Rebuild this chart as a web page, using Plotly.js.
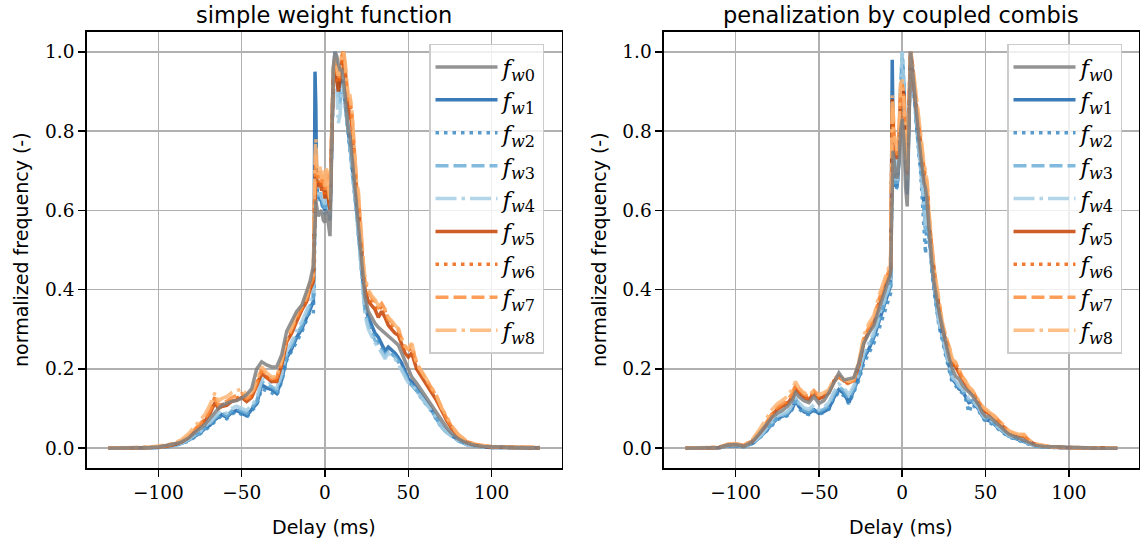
<!DOCTYPE html>
<html><head><meta charset="utf-8">
<script src="https://cdn.plot.ly/plotly-3.0.1.min.js"></script>
<style>html,body{margin:0;padding:0;background:#fff}#chart{width:1144px;height:545px}</style>
</head><body><div id="chart"></div>
<script>
// Delay axis samples (ms)
const delay = [-130,-120,-110,-105,-100,-95,-90,-86,-82,-78,
 -75,-72,-69,-66,-64,-62,-59,-56,-53,-50,
 -47,-44,-41,-38,-35,-32,-29,-26,-23,-20,
 -17,-14,-11,-9,-7,-6.5,-6,-5.5,-5,-4,
 -3,-2,-1,0,1,2,3,4,5,6,
 7,8,9,10,11,12,13,14,15,16,
 17,18,19,20,21,22,23,24,26,28,
 30,32,34,36,38,40,42,44,46,48,
 50,52,55,58,61,64,67,70,73,76,
 80,85,90,95,100,110,120,129];

const seriesLabels = ['<i>f</i><sub><i>w</i>0</sub>','<i>f</i><sub><i>w</i>1</sub>','<i>f</i><sub><i>w</i>2</sub>',
 '<i>f</i><sub><i>w</i>3</sub>','<i>f</i><sub><i>w</i>4</sub>','<i>f</i><sub><i>w</i>5</sub>',
 '<i>f</i><sub><i>w</i>6</sub>','<i>f</i><sub><i>w</i>7</sub>','<i>f</i><sub><i>w</i>8</sub>'];
const panelTitles = ['simple weight function','penalization by coupled combis'];
const xTickVals = [-100,-50,0,50,100];
const yTickVals = [0,0.2,0.4,0.6,0.8,1.0];
const yTickText = ['0.0','0.2','0.4','0.6','0.8','1.0'];

// ---------- Panel 1: simple weight function ----------
const simple_fw0 = [0,0,0.001,0.002,0.003,0.006,0.011,0.016,0.025,0.040,
 0.050,0.060,0.075,0.092,0.100,0.108,0.113,0.118,0.120,0.126,
 0.135,0.150,0.200,0.218,0.210,0.205,0.205,0.235,0.295,0.320,
 0.345,0.360,0.400,0.420,0.460,0.520,0.600,0.625,0.610,0.585,
 0.595,0.600,0.575,0.570,0.600,0.560,0.535,0.760,0.960,1.000,
 0.990,0.970,0.955,0.955,0.930,0.890,0.840,0.800,0.785,0.750,
 0.700,0.655,0.610,0.565,0.510,0.460,0.410,0.380,0.345,0.330,
 0.315,0.305,0.298,0.290,0.283,0.275,0.268,0.260,0.240,0.220,
 0.200,0.180,0.164,0.145,0.125,0.107,0.088,0.068,0.052,0.037,
 0.023,0.013,0.007,0.004,0.003,0.002,0.001,0.001];
const simple_fw1 = [0,0,0,0.001,0.002,0.004,0.008,0.012,0.020,0.030,
 0.038,0.050,0.058,0.072,0.080,0.085,0.078,0.090,0.095,0.088,
 0.082,0.098,0.112,0.160,0.152,0.148,0.138,0.172,0.228,0.250,
 0.280,0.300,0.330,0.350,0.370,0.550,0.950,0.860,0.660,0.630,
 0.640,0.620,0.610,0.600,0.625,0.600,0.580,0.760,0.940,1.000,
 0.960,0.920,0.910,0.930,0.920,0.880,0.840,0.800,0.775,0.740,
 0.690,0.645,0.600,0.550,0.500,0.440,0.390,0.360,0.330,0.310,
 0.290,0.280,0.262,0.245,0.255,0.248,0.240,0.228,0.215,0.195,
 0.175,0.168,0.150,0.130,0.113,0.097,0.075,0.055,0.042,0.032,
 0.020,0.010,0.006,0.003,0.002,0.001,0,0.001];
const simple_fw2 = [0,0,0,0.001,0.002,0.003,0.007,0.011,0.018,0.028,
 0.036,0.046,0.055,0.068,0.075,0.082,0.074,0.086,0.092,0.084,
 0.078,0.094,0.108,0.150,0.145,0.140,0.132,0.168,0.222,0.245,
 0.272,0.292,0.325,0.345,0.340,0.420,0.600,0.660,0.640,0.620,
 0.630,0.615,0.600,0.590,0.615,0.590,0.570,0.750,0.930,1.000,
 0.950,0.910,0.900,0.920,0.910,0.870,0.830,0.790,0.770,0.730,
 0.680,0.635,0.590,0.540,0.490,0.430,0.380,0.350,0.320,0.300,
 0.280,0.270,0.255,0.238,0.248,0.240,0.232,0.220,0.205,0.188,
 0.170,0.160,0.145,0.125,0.108,0.093,0.072,0.052,0.040,0.030,
 0.018,0.009,0.005,0.003,0.002,0.001,0,0];
const simple_fw3 = [0,0,0,0.001,0.002,0.004,0.008,0.012,0.020,0.031,
 0.040,0.052,0.062,0.076,0.084,0.090,0.082,0.094,0.100,0.094,
 0.088,0.102,0.118,0.168,0.160,0.155,0.145,0.180,0.235,0.258,
 0.288,0.308,0.338,0.360,0.380,0.480,0.620,0.670,0.650,0.635,
 0.645,0.625,0.615,0.605,0.630,0.605,0.585,0.770,0.950,1.000,
 0.950,0.880,0.870,0.910,0.915,0.875,0.835,0.795,0.775,0.735,
 0.685,0.640,0.595,0.545,0.495,0.435,0.380,0.345,0.310,0.290,
 0.272,0.262,0.248,0.232,0.245,0.238,0.230,0.218,0.203,0.185,
 0.168,0.160,0.145,0.126,0.110,0.095,0.073,0.053,0.040,0.030,
 0.019,0.009,0.005,0.003,0.002,0.001,0.001,0];
const simple_fw4 = [0,0,0,0.001,0.002,0.004,0.009,0.013,0.022,0.033,
 0.042,0.055,0.066,0.080,0.088,0.095,0.088,0.100,0.106,0.100,
 0.095,0.108,0.125,0.175,0.170,0.162,0.152,0.188,0.245,0.268,
 0.298,0.318,0.345,0.368,0.395,0.520,0.640,0.680,0.660,0.640,
 0.650,0.630,0.625,0.615,0.640,0.615,0.590,0.780,0.960,1.000,
 0.900,0.820,0.840,0.900,0.920,0.880,0.840,0.800,0.780,0.740,
 0.690,0.640,0.590,0.540,0.480,0.420,0.370,0.335,0.300,0.280,
 0.265,0.255,0.240,0.225,0.240,0.232,0.225,0.212,0.198,0.180,
 0.165,0.160,0.145,0.126,0.110,0.095,0.073,0.053,0.040,0.030,
 0.019,0.010,0.006,0.003,0.002,0.001,0.001,0];
const simple_fw5 = [0,0,0.001,0.002,0.003,0.005,0.010,0.016,0.027,0.044,
 0.055,0.068,0.088,0.115,0.100,0.105,0.108,0.118,0.122,0.128,
 0.118,0.128,0.158,0.188,0.178,0.168,0.168,0.210,0.268,0.290,
 0.320,0.348,0.370,0.400,0.420,0.560,0.660,0.700,0.670,0.660,
 0.670,0.650,0.660,0.630,0.660,0.620,0.600,0.780,0.930,0.960,
 0.930,0.900,0.930,0.970,1.000,0.950,0.900,0.860,0.840,0.820,
 0.760,0.700,0.640,0.620,0.570,0.500,0.440,0.400,0.370,0.360,
 0.350,0.330,0.345,0.330,0.310,0.300,0.290,0.285,0.260,0.240,
 0.230,0.240,0.200,0.180,0.160,0.140,0.120,0.095,0.070,0.050,
 0.030,0.015,0.008,0.005,0.003,0.002,0.001,0.001];
const simple_fw6 = [0,0,0.001,0.002,0.003,0.006,0.011,0.017,0.029,0.046,
 0.058,0.072,0.092,0.130,0.105,0.110,0.112,0.122,0.126,0.132,
 0.122,0.132,0.162,0.192,0.182,0.172,0.172,0.215,0.272,0.295,
 0.325,0.352,0.375,0.405,0.430,0.580,0.680,0.720,0.690,0.670,
 0.690,0.660,0.680,0.640,0.680,0.640,0.610,0.790,0.940,0.970,
 0.940,0.920,0.940,0.980,1.000,0.960,0.910,0.870,0.870,0.840,
 0.780,0.720,0.650,0.630,0.580,0.510,0.450,0.410,0.385,0.370,
 0.360,0.345,0.360,0.345,0.320,0.310,0.300,0.298,0.270,0.250,
 0.245,0.255,0.210,0.190,0.170,0.150,0.128,0.100,0.075,0.054,
 0.032,0.016,0.009,0.005,0.003,0.002,0.002,0.001];
const simple_fw7 = [0,0,0.001,0.002,0.003,0.006,0.012,0.018,0.030,0.048,
 0.060,0.075,0.095,0.125,0.108,0.112,0.118,0.128,0.132,0.138,
 0.125,0.132,0.165,0.200,0.185,0.175,0.178,0.220,0.275,0.300,
 0.330,0.355,0.378,0.410,0.430,0.600,0.700,0.740,0.700,0.680,
 0.700,0.670,0.690,0.650,0.700,0.650,0.620,0.800,0.950,0.980,
 0.950,0.930,0.950,0.990,1.000,0.970,0.920,0.880,0.880,0.850,
 0.790,0.730,0.660,0.640,0.590,0.520,0.460,0.420,0.395,0.380,
 0.370,0.355,0.365,0.350,0.325,0.318,0.305,0.300,0.275,0.255,
 0.250,0.262,0.212,0.192,0.172,0.152,0.130,0.100,0.075,0.055,
 0.033,0.017,0.010,0.006,0.004,0.003,0.002,0.002];
const simple_fw8 = [0,0,0.002,0.003,0.005,0.008,0.014,0.022,0.036,0.056,
 0.070,0.085,0.110,0.140,0.118,0.125,0.130,0.140,0.145,0.150,
 0.135,0.140,0.172,0.206,0.190,0.180,0.180,0.222,0.278,0.305,
 0.340,0.360,0.385,0.420,0.440,0.620,0.740,0.780,0.720,0.690,
 0.710,0.680,0.700,0.660,0.710,0.660,0.630,0.810,0.960,0.990,
 0.960,0.940,0.960,0.990,1.000,0.980,0.930,0.890,0.890,0.860,
 0.800,0.740,0.670,0.650,0.600,0.530,0.470,0.430,0.400,0.385,
 0.375,0.360,0.362,0.350,0.330,0.322,0.310,0.302,0.278,0.258,
 0.252,0.265,0.215,0.195,0.175,0.155,0.132,0.102,0.078,0.057,
 0.035,0.018,0.010,0.006,0.004,0.003,0.002,0.002];

// ---------- Panel 2: penalization by coupled combis ----------
const coupled_fw0 = [0,0.001,0.002,0.008,0.009,0.005,0.016,0.035,0.055,0.078,
 0.088,0.095,0.105,0.120,0.140,0.130,0.120,0.115,0.130,0.113,
 0.120,0.140,0.165,0.190,0.172,0.176,0.178,0.215,0.265,0.290,
 0.310,0.350,0.390,0.420,0.440,0.550,0.700,0.750,0.730,0.690,
 0.680,0.720,0.800,0.830,0.780,0.660,0.610,0.800,1.000,0.960,
 0.910,0.870,0.820,0.780,0.740,0.700,0.670,0.655,0.620,0.560,
 0.500,0.460,0.420,0.400,0.370,0.345,0.325,0.305,0.270,0.230,
 0.200,0.182,0.175,0.160,0.150,0.142,0.133,0.120,0.108,0.090,
 0.080,0.080,0.070,0.058,0.046,0.035,0.030,0.026,0.020,0.014,
 0.007,0.004,0.003,0.002,0.001,0.001,0,0];
const coupled_fw1 = [0,0,0.001,0.006,0.007,0.004,0.012,0.026,0.042,0.062,
 0.075,0.080,0.085,0.100,0.120,0.105,0.092,0.088,0.097,0.088,
 0.092,0.100,0.128,0.148,0.138,0.115,0.145,0.180,0.228,0.250,
 0.280,0.320,0.360,0.385,0.410,0.600,0.980,0.800,0.720,0.660,
 0.665,0.720,0.830,0.970,0.900,0.720,0.640,0.820,1.000,0.960,
 0.900,0.850,0.800,0.760,0.730,0.680,0.620,0.560,0.600,0.540,
 0.490,0.450,0.410,0.375,0.340,0.320,0.300,0.285,0.245,0.210,
 0.175,0.165,0.150,0.145,0.130,0.115,0.118,0.108,0.098,0.082,
 0.072,0.070,0.062,0.050,0.040,0.030,0.026,0.021,0.016,0.011,
 0.006,0.003,0.002,0.001,0.001,0,0,0];
const coupled_fw2 = [0,0,0.001,0.005,0.006,0.004,0.011,0.024,0.040,0.058,
 0.072,0.078,0.082,0.098,0.115,0.100,0.088,0.085,0.095,0.085,
 0.090,0.098,0.125,0.142,0.132,0.112,0.140,0.172,0.215,0.238,
 0.265,0.300,0.340,0.360,0.390,0.560,0.700,0.740,0.700,0.650,
 0.660,0.740,0.880,0.990,0.920,0.740,0.660,0.830,1.000,0.950,
 0.890,0.840,0.790,0.740,0.700,0.640,0.560,0.490,0.590,0.530,
 0.480,0.440,0.400,0.365,0.330,0.310,0.290,0.275,0.235,0.200,
 0.165,0.158,0.145,0.140,0.125,0.090,0.112,0.102,0.094,0.078,
 0.068,0.066,0.058,0.047,0.037,0.028,0.024,0.019,0.015,0.010,
 0.005,0.003,0.002,0.001,0.001,0,0,0];
const coupled_fw3 = [0,0,0.001,0.006,0.007,0.004,0.012,0.026,0.043,0.064,
 0.077,0.082,0.088,0.104,0.125,0.110,0.096,0.092,0.102,0.093,
 0.098,0.108,0.135,0.155,0.145,0.125,0.150,0.185,0.235,0.258,
 0.285,0.325,0.365,0.390,0.415,0.580,0.720,0.760,0.720,0.670,
 0.670,0.750,0.900,1.000,0.920,0.750,0.670,0.830,0.990,0.950,
 0.890,0.850,0.800,0.750,0.710,0.660,0.600,0.540,0.600,0.545,
 0.495,0.455,0.415,0.378,0.342,0.320,0.300,0.285,0.245,0.210,
 0.178,0.168,0.155,0.148,0.135,0.120,0.120,0.110,0.100,0.084,
 0.074,0.072,0.063,0.051,0.041,0.031,0.027,0.022,0.017,0.012,
 0.006,0.003,0.002,0.001,0.001,0,0,0];
const coupled_fw4 = [0,0,0.001,0.007,0.008,0.004,0.013,0.028,0.046,0.068,
 0.080,0.086,0.092,0.108,0.130,0.115,0.102,0.098,0.110,0.098,
 0.104,0.115,0.142,0.162,0.152,0.135,0.158,0.192,0.242,0.265,
 0.292,0.332,0.370,0.395,0.420,0.590,0.740,0.770,0.730,0.680,
 0.680,0.760,0.920,1.000,0.900,0.760,0.680,0.840,0.980,0.960,
 0.900,0.860,0.810,0.760,0.720,0.670,0.610,0.560,0.610,0.555,
 0.505,0.460,0.420,0.382,0.345,0.322,0.302,0.288,0.248,0.212,
 0.180,0.170,0.158,0.150,0.137,0.125,0.122,0.112,0.101,0.085,
 0.075,0.073,0.064,0.052,0.042,0.032,0.028,0.022,0.017,0.012,
 0.006,0.003,0.002,0.001,0.001,0,0,0];
const coupled_fw5 = [0,0.001,0.002,0.008,0.010,0.006,0.017,0.036,0.056,0.082,
 0.098,0.106,0.112,0.128,0.150,0.140,0.128,0.122,0.138,0.125,
 0.130,0.140,0.168,0.182,0.170,0.165,0.172,0.210,0.268,0.295,
 0.318,0.365,0.400,0.425,0.450,0.620,0.880,0.820,0.760,0.740,
 0.730,0.760,0.880,0.910,0.890,0.750,0.690,0.850,1.000,0.960,
 0.910,0.870,0.840,0.800,0.770,0.730,0.690,0.670,0.650,0.570,
 0.530,0.480,0.440,0.415,0.385,0.357,0.330,0.306,0.273,0.248,
 0.210,0.206,0.190,0.175,0.164,0.147,0.139,0.128,0.113,0.100,
 0.092,0.088,0.078,0.065,0.052,0.040,0.035,0.031,0.030,0.018,
 0.009,0.005,0.003,0.002,0.001,0.001,0.001,0];
const coupled_fw6 = [0,0.001,0.002,0.009,0.011,0.006,0.018,0.038,0.058,0.085,
 0.100,0.108,0.115,0.132,0.155,0.145,0.132,0.125,0.142,0.128,
 0.132,0.142,0.170,0.180,0.168,0.162,0.170,0.212,0.272,0.300,
 0.322,0.370,0.405,0.430,0.455,0.640,0.860,0.840,0.780,0.750,
 0.735,0.770,0.900,0.920,0.880,0.740,0.700,0.860,1.000,0.970,
 0.920,0.880,0.850,0.810,0.780,0.740,0.700,0.680,0.660,0.580,
 0.535,0.485,0.445,0.420,0.390,0.360,0.335,0.310,0.278,0.252,
 0.215,0.210,0.195,0.178,0.166,0.150,0.142,0.130,0.116,0.102,
 0.095,0.090,0.080,0.067,0.054,0.041,0.036,0.032,0.033,0.019,
 0.010,0.005,0.003,0.002,0.001,0.001,0.001,0.001];
const coupled_fw7 = [0,0.001,0.002,0.009,0.011,0.007,0.019,0.040,0.062,0.088,
 0.104,0.112,0.120,0.138,0.160,0.150,0.136,0.130,0.145,0.132,
 0.136,0.145,0.172,0.182,0.170,0.165,0.172,0.215,0.278,0.305,
 0.325,0.375,0.410,0.435,0.460,0.660,0.850,0.860,0.790,0.760,
 0.740,0.780,0.910,0.920,0.870,0.740,0.700,0.870,1.000,0.970,
 0.930,0.890,0.860,0.820,0.790,0.750,0.710,0.690,0.665,0.590,
 0.540,0.490,0.450,0.425,0.395,0.365,0.340,0.315,0.282,0.258,
 0.222,0.215,0.198,0.180,0.168,0.152,0.145,0.132,0.118,0.104,
 0.097,0.092,0.082,0.069,0.056,0.042,0.037,0.033,0.034,0.020,
 0.010,0.005,0.003,0.002,0.001,0.001,0.001,0.001];
const coupled_fw8 = [0,0.001,0.003,0.010,0.012,0.008,0.022,0.045,0.070,0.098,
 0.112,0.120,0.130,0.150,0.168,0.152,0.140,0.135,0.145,0.135,
 0.140,0.148,0.175,0.185,0.172,0.168,0.175,0.220,0.285,0.315,
 0.335,0.385,0.420,0.445,0.470,0.680,0.890,0.860,0.800,0.770,
 0.750,0.790,0.920,0.930,0.880,0.750,0.710,0.880,1.000,0.980,
 0.940,0.900,0.870,0.830,0.800,0.760,0.720,0.700,0.670,0.600,
 0.550,0.500,0.460,0.430,0.400,0.370,0.345,0.320,0.285,0.260,
 0.225,0.218,0.200,0.182,0.170,0.155,0.147,0.135,0.120,0.106,
 0.099,0.094,0.084,0.071,0.058,0.044,0.039,0.035,0.035,0.021,
 0.011,0.006,0.003,0.002,0.001,0.001,0.001,0.001];

const panelSeries = [
 [simple_fw0,simple_fw1,simple_fw2,simple_fw3,simple_fw4,simple_fw5,simple_fw6,simple_fw7,simple_fw8],
 [coupled_fw0,coupled_fw1,coupled_fw2,coupled_fw3,coupled_fw4,coupled_fw5,coupled_fw6,coupled_fw7,coupled_fw8]
];

// styles
const colors = ['#808080','#1764ab','#3c8bc3','#6baed6','#a6cee4','#c54102','#ec6410','#fd8d3c','#fdb574'];
const dashes = ['solid','solid','3.5px,5px','13px,5px','21px,5px,3.5px,5px','solid','3.5px,5px','13px,5px','21px,5px,3.5px,5px'];
const drawOrder = [1,2,3,4,5,6,7,8,0];

const traces = [];
for (let p = 0; p < 2; p++) {
  for (const i of drawOrder) {
    traces.push({
      x: delay, y: panelSeries[p][i],
      xaxis: p ? 'x2' : 'x', yaxis: p ? 'y2' : 'y',
      type: 'scatter', mode: 'lines',
      name: seriesLabels[i],
      legend: p ? 'legend2' : 'legend',
      legendrank: i + 1,
      opacity: 0.85,
      line: {color: colors[i], width: 3.5, dash: dashes[i]},
      hoverinfo: 'skip'
    });
  }
}

const tickFont = {family: 'DejaVu Serif', size: 18.5, color: '#000'};
function xAx(domain, anchor) {
  return {domain: domain, anchor: anchor, range: [-142.95, 141.95], tickvals: xTickVals,
    showgrid: true, gridcolor: '#b0b0b0', gridwidth: 1.6, zeroline: false,
    showline: true, linecolor: '#000', linewidth: 1.6, mirror: true,
    ticks: 'outside', ticklen: 7, tickwidth: 1.6, tickcolor: '#000',
    tickfont: tickFont, automargin: false, fixedrange: true};
}
function yAx(anchor) {
  return {domain: [0, 1], anchor: anchor, range: [-0.05, 1.05], tickvals: yTickVals, ticktext: yTickText,
    showgrid: true, gridcolor: '#b0b0b0', gridwidth: 1.6, zeroline: false,
    showline: true, linecolor: '#000', linewidth: 1.6, mirror: true,
    ticks: 'outside', ticklen: 7, tickwidth: 1.6, tickcolor: '#000',
    tickfont: tickFont, automargin: false, fixedrange: true};
}
function legendCfg(x) {
  return {x: x, y: 0.9725, xanchor: 'left', yanchor: 'top',
    bgcolor: 'rgba(255,255,255,0.8)', bordercolor: '#cccccc', borderwidth: 1.5,
    font: {family: 'DejaVu Serif', size: 23, color: '#000'},
    itemwidth: 62, tracegroupgap: 0, traceorder: 'normal'};
}
const sansFont = {family: 'DejaVu Sans', size: 19, color: '#000'};
const titleFont = {family: 'DejaVu Sans', size: 22.5, color: '#000'};
const cx = [324/1144, 901.4/1144];
const annotations = [];
for (let p = 0; p < 2; p++) {
  annotations.push({text: panelTitles[p], xref: 'paper', yref: 'paper', x: cx[p], y: 1.0734,
    xanchor: 'center', yanchor: 'top', showarrow: false, font: titleFont});
  annotations.push({text: 'Delay (ms)', xref: 'paper', yref: 'paper', x: cx[p], y: -0.1353,
    xanchor: 'center', yanchor: 'middle', showarrow: false, font: sansFont});
  annotations.push({text: 'normalized frequency (-)', xref: 'paper', yref: 'paper',
    x: [21/1144, 599/1144][p], y: 0.5, textangle: -90,
    xanchor: 'center', yanchor: 'middle', showarrow: false, font: sansFont});
}

const layout = {
  width: 1144, height: 545,
  margin: {l: 0, r: 0, t: 32, b: 77, pad: 0},
  paper_bgcolor: '#fff', plot_bgcolor: '#fff',
  showlegend: true,
  xaxis: xAx([86.75/1144, 561.6/1144], 'y'),
  yaxis: yAx('x'),
  xaxis2: xAx([664/1144, 1138.8/1144], 'y2'),
  yaxis2: yAx('x2'),
  legend: legendCfg(429/1144),
  legend2: legendCfg(1007/1144),
  annotations: annotations
};

Plotly.newPlot('chart', traces, layout, {staticPlot: true, displayModeBar: false});
</script>
</body></html>
